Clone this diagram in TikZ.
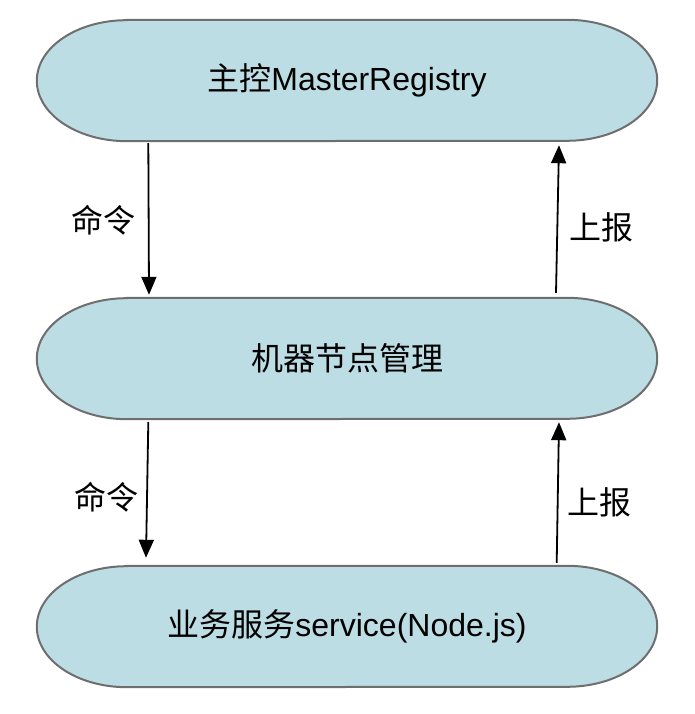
\documentclass[tikz,border=0pt]{standalone}
\usepackage{fontspec}
\setmainfont{Liberation Sans}
\newfontfamily\cjk{Noto Sans CJK SC}
\usetikzlibrary{arrows.meta,backgrounds}
\definecolor{pillfill}{HTML}{BDDDE4}
\definecolor{pilldraw}{HTML}{6E6E6E}
\newcommand{\capsulepath}[1]{%
  \path[capsulestyle] ([xshift=90pt]#1.north west) -- ([xshift=-90pt]#1.north east)
    arc[start angle=90,end angle=-90,x radius=90pt,y radius=60.5pt]
    -- ([xshift=90pt]#1.south west)
    arc[start angle=270,end angle=90,x radius=90pt,y radius=60.5pt] -- cycle;}
\tikzset{
  capsulestyle/.style={fill=pillfill,draw=pilldraw,line width=2pt},
  pillnode/.style={minimum width=620pt,minimum height=121pt,inner sep=0pt,
    font=\fontsize{32}{38}\selectfont},
  lbl/.style={inner sep=0pt,font=\fontsize{32}{38}\selectfont\cjk},
  flow/.style={line width=1.8pt,-{Triangle[length=18pt,width=15pt]}}
}
\begin{document}
\begin{tikzpicture}[x=1pt,y=1pt]
\useasboundingbox (0,0) rectangle (694,714);
\node[pillnode] (n1) at (347,633.5) {{\cjk 主控}MasterRegistry};
\node[pillnode] (n2) at (347,355.5) {\cjk 机器节点管理};
\node[pillnode] (n3) at (347,87.5) {{\cjk 业务服务}service(Node.js)};
\begin{scope}[on background layer]
  \capsulepath{n1}
  \capsulepath{n2}
  \capsulepath{n3}
\end{scope}
\draw[flow] ([xshift=-198.7pt,yshift=-2pt]n1.south) -- ([xshift=-198pt,yshift=3pt]n2.north);
\draw[flow] ([xshift=209pt,yshift=5pt]n2.north) -- ([xshift=212pt,yshift=-4pt]n1.south);
\draw[flow] ([xshift=-198.7pt,yshift=-3pt]n2.south) -- ([xshift=-201pt,yshift=8pt]n3.north);
\draw[flow] ([xshift=209.7pt,yshift=3pt]n3.north) -- ([xshift=212pt,yshift=-3pt]n2.south);
\node[lbl] (l1) at (103.5,494) {命令};
\node[lbl] (l2) at (601,487) {上报};
\node[lbl] (l3) at (106,217) {命令};
\node[lbl] (l4) at (599,212) {上报};
\end{tikzpicture}
\end{document}
